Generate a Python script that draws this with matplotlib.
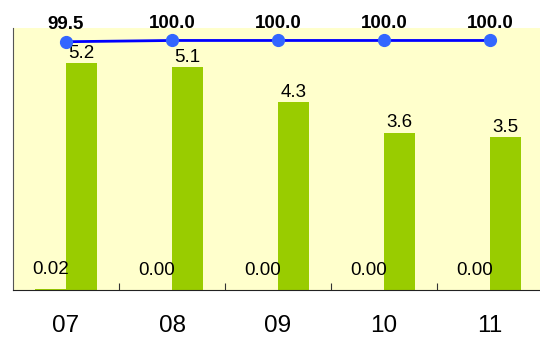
import numpy as np
from matplotlib import pyplot as plt

plt.rcParams['font.family'] = ['Liberation Sans', 'DejaVu Sans']

months = ['07', '08', '09', '10', '11']
rate_main = [5.2, 5.1, 4.3, 3.6, 3.5]
rate_small = [0.02, 0.00, 0.00, 0.00, 0.00]
share = [99.5, 100.0, 100.0, 100.0, 100.0]

fig = plt.figure(figsize=(5.4, 3.41), dpi=100)
ax1 = fig.add_axes([13 / 540, 51 / 341, 530 / 540, 262 / 341])
ax1.set_facecolor('#FFFFCC')

x = np.arange(len(months))
width = 0.29

small = ax1.bar(x - width / 2, rate_small, width, color='#99CC00')
main = ax1.bar(x + width / 2, rate_main, width, color='#99CC00')
ax1.bar_label(main, labels=[f'{v:.1f}' for v in rate_main], padding=1, fontsize=13.5)
ax1.bar_label(small, labels=[f'{v:.2f}' for v in rate_small], padding=8, fontsize=13.5)

ax1.set_xlim(-0.5, 4.5)
ax1.set_ylim(0, 6)
ax1.set_xticks(x + 0.5)
ax1.set_xticklabels([])
ax1.set_xticks(x, minor=True)
ax1.set_xticklabels(months, minor=True, fontsize=17.5)
ax1.tick_params(axis='x', which='major', direction='in', length=5, width=0.8, color='#333333')
ax1.tick_params(axis='x', which='minor', length=0, pad=18)
ax1.set_yticks([])
for side in ['top', 'right']:
    ax1.spines[side].set_visible(False)
ax1.spines['left'].set_color('#555555')
ax1.spines['bottom'].set_color('#222222')

ax2 = ax1.twinx()
ax2.plot(x, share, color='#0000FF', linewidth=2, marker='o', markersize=8.5,
         markerfacecolor='#3366FF', markeredgecolor='#3366FF')
for xi, v in zip(x, share):
    ax2.annotate(f'{v:.1f}', (xi, v), xytext=(0, 6), textcoords='offset points',
                 ha='center', va='bottom', fontsize=13.5, fontweight='bold')
ax2.set_ylim(0, 105)
ax2.set_yticks([])
for side in ['top', 'right', 'left', 'bottom']:
    ax2.spines[side].set_visible(False)

plt.savefig('out.png', dpi=100)
